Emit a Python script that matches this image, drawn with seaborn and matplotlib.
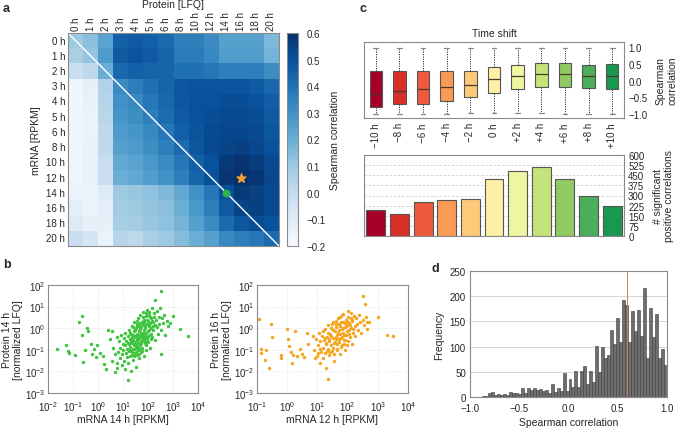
import numpy as np
import pandas as pd
import matplotlib
matplotlib.use("Agg")
import matplotlib.pyplot as plt
from matplotlib.ticker import LogLocator
import seaborn as sns

sns.set_theme(style="white")
plt.rcParams["font.family"] = ["Liberation Sans", "DejaVu Sans"]
plt.rcParams["axes.unicode_minus"] = True

# ---- panel a: mRNA vs protein Spearman correlation matrix ----
hours = ["0 h", "1 h", "2 h", "3 h", "4 h", "5 h", "6 h", "8 h",
         "10 h", "12 h", "14 h", "16 h", "18 h", "20 h"]
corr = np.array([
    [0.10, 0.14, 0.24, 0.45, 0.47, 0.45, 0.42, 0.36, 0.36, 0.32, 0.25, 0.25, 0.25, 0.16],
    [0.07, 0.12, 0.27, 0.47, 0.49, 0.47, 0.44, 0.37, 0.37, 0.33, 0.26, 0.26, 0.26, 0.18],
    [-0.02, 0.02, 0.20, 0.43, 0.45, 0.44, 0.44, 0.40, 0.40, 0.38, 0.36, 0.36, 0.36, 0.31],
    [-0.16, -0.13, 0.05, 0.32, 0.36, 0.40, 0.44, 0.48, 0.49, 0.49, 0.49, 0.49, 0.47, 0.43],
    [-0.17, -0.14, 0.04, 0.30, 0.33, 0.38, 0.43, 0.48, 0.50, 0.50, 0.51, 0.51, 0.50, 0.46],
    [-0.17, -0.15, 0.03, 0.29, 0.31, 0.36, 0.41, 0.47, 0.50, 0.51, 0.52, 0.52, 0.51, 0.47],
    [-0.17, -0.15, 0.02, 0.27, 0.29, 0.33, 0.38, 0.45, 0.49, 0.52, 0.53, 0.53, 0.52, 0.48],
    [-0.16, -0.14, 0.02, 0.25, 0.27, 0.31, 0.36, 0.42, 0.48, 0.52, 0.54, 0.55, 0.53, 0.50],
    [-0.16, -0.14, -0.01, 0.22, 0.24, 0.28, 0.32, 0.38, 0.45, 0.50, 0.57, 0.59, 0.56, 0.52],
    [-0.16, -0.14, -0.02, 0.20, 0.22, 0.26, 0.30, 0.36, 0.44, 0.50, 0.58, 0.61, 0.58, 0.53],
    [-0.15, -0.15, -0.10, 0.10, 0.11, 0.13, 0.16, 0.22, 0.30, 0.38, 0.50, 0.57, 0.55, 0.52],
    [-0.12, -0.15, -0.12, 0.09, 0.10, 0.12, 0.14, 0.20, 0.28, 0.36, 0.47, 0.54, 0.55, 0.52],
    [-0.10, -0.13, -0.13, 0.08, 0.09, 0.11, 0.13, 0.18, 0.25, 0.32, 0.42, 0.48, 0.51, 0.50],
    [-0.02, -0.06, -0.15, 0.04, 0.02, 0.07, 0.10, 0.15, 0.20, 0.25, 0.33, 0.36, 0.38, 0.42],
])
cbar_ticks = [-0.2, -0.1, 0.0, 0.1, 0.2, 0.3, 0.4, 0.5, 0.6]

# ---- panel b: scatter (log10 values) ----
mrna14_log = [
    -1.64, -1.27, -1.2, -1.16, -0.93, -0.76, -0.63, -0.65, -0.44, -0.39, -0.6, -0.53,
    -0.27, -0.23, -0.16, -0.04, 0.07, -0.07, 0.2, 0.24, 0.31, 0.4, 0.47, 0.57, 0.67,
    0.76, 1.21, 2.51, 2.27, 3.27, 3.61, 3.0, 2.87, 2.53,
    0.55, 0.6, 0.7, 0.75, 0.78,
    0.82, 0.85, 0.88, 0.9, 0.93, 0.95, 0.97, 0.99,
    1.01, 1.03, 1.05, 1.07, 1.08, 1.1, 1.12, 1.14, 1.16, 1.18, 1.19,
    1.21, 1.22, 1.24, 1.25, 1.27, 1.28, 1.3, 1.31, 1.33, 1.34, 1.36, 1.37, 1.38, 1.39,
    1.41, 1.42, 1.43, 1.45, 1.46, 1.47, 1.48, 1.5, 1.51, 1.52, 1.53, 1.55, 1.56, 1.57, 1.58, 1.59,
    1.6, 1.61, 1.62, 1.64, 1.65, 1.66, 1.67, 1.68, 1.7, 1.71, 1.72, 1.73, 1.75, 1.76, 1.77, 1.79,
    1.8, 1.81, 1.83, 1.84, 1.85, 1.86, 1.88, 1.89, 1.9, 1.92, 1.93, 1.95, 1.96, 1.98, 1.99,
    2.0, 2.02, 2.04, 2.05, 2.07, 2.09, 2.1, 2.12, 2.14, 2.16, 2.18, 2.2, 2.22, 2.25, 2.27, 2.29,
    2.32, 2.35, 2.38, 2.4, 2.43, 2.46, 2.5, 2.53, 2.57, 2.6, 2.65, 2.7, 2.75, 2.8,
    1.25, 1.28, 1.32, 1.35, 1.4, 1.44, 1.47, 1.5, 1.53, 1.55, 1.58, 1.6, 1.62, 1.65, 1.68,
    1.7, 1.72, 1.74, 1.77, 1.79, 1.82, 1.84, 1.87, 1.9, 1.91, 1.94, 1.97, 2.0, 2.03, 2.06,
    2.08, 2.11, 2.15, 2.19, 2.23, 1.3, 1.38, 1.45, 1.52, 1.63, 1.75, 1.86, 1.95, 1.42,
    1.57, 1.67, 1.82, 1.93, 2.05, 2.13,
]
prot14_log = [
    -0.95, -0.8, -1.04, -1.16, -1.25, 0.28, 0.58, -0.32, 0.02, -0.13, -1.58, -1.0,
    -0.74, -1.2, -0.97, -0.79, -1.13, -1.35, -1.28, -1.66, -1.89, -0.09, -0.48, -0.13, -2.04,
    -1.86, -2.39, 1.72, 1.31, -0.03, -0.37, 0.58, 0.25, -1.2,
    -1.5, -0.9, -1.2, -0.4, -1.6,
    -1.1, -0.6, -1.4, -0.9, -0.3, -1.7, -1.2, -0.75,
    -1.0, -0.45, -1.5, -0.8, -1.9, -0.2, -1.15, -0.6, -1.35, -0.95, -0.35,
    -1.6, -0.7, -1.05, -0.1, -0.5, -1.3, -0.85, -0.25, -2.0, -0.65, -1.1, 0.1, -0.4, -0.95,
    -0.55, -1.45, -0.15, -0.8, 0.3, -1.15, -0.35, -0.65, -1.8, 0.0, -0.9, -0.45, -1.25, 0.2, -0.25, -0.7,
    -1.0, 0.45, -0.5, -0.15, -1.4, 0.1, -0.8, -0.3, 0.6, -0.6, -1.1, 0.05, -0.4, 0.3, -0.9, -0.2,
    0.75, -0.55, 0.15, -1.3, -0.1, 0.4, -0.7, 0.0, -0.35, 0.55, -1.0, 0.2, -0.45, 0.85, -0.15,
    0.35, -0.65, 0.1, 0.6, -0.3, 0.25, -0.9, 0.45, 0.0, 0.95, -0.4, 0.3, -0.1, 0.7, 0.15, -0.55,
    0.4, 0.05, 0.8, -0.25, 0.5, 0.2, 0.95, -0.1, 0.45, 0.25, 0.6, -0.3, 0.35, 0.1,
    -0.75, -0.2, -0.55, -1.25, -0.3, -0.95, -0.1, -0.4, -1.1, 0.1, -0.55, -0.3, -0.85, -0.45, 0.25,
    -0.95, -0.2, -0.7, 0.2, -0.5, -0.3, 0.3, -0.45, 0.1, -0.8, -0.2, 0.4, -0.35, 0.2, -0.1,
    0.5, -0.5, 0.35, 0.1, 0.5, -1.0, -0.7, -1.3, -0.8, -1.2, -1.05, -0.6, -0.6, 0.05,
    0.35, -0.05, 0.5, 0.7, 0.75, -0.25,
]
mrna12_log = [
    -0.93, -0.88, -0.86, -0.72, -0.71, -0.52, -0.6, -0.49, -0.22, -0.19, -0.02, 0.01,
    0.07, 0.11, 0.16, 0.18, 0.26, 0.31, 0.42, 0.48, 0.56, 0.64, 0.7, 0.87, 0.92, 1.34,
    2.64, 3.0, 3.3, 3.5, 2.58, 2.51,
    0.9, 0.95, 1.0, 1.03, 1.05, 1.08, 1.1, 1.12, 1.15, 1.17, 1.2, 1.22, 1.24, 1.26, 1.28,
    1.3, 1.32, 1.34, 1.36, 1.38, 1.4, 1.42, 1.44, 1.46, 1.48, 1.5, 1.52, 1.54, 1.56, 1.58,
    1.6, 1.62, 1.64, 1.66, 1.68, 1.7, 1.72, 1.74, 1.76, 1.78, 1.8, 1.82, 1.84, 1.86, 1.88,
    1.9, 1.92, 1.94, 1.96, 1.98, 2.0, 2.02, 2.04, 2.06, 2.08, 2.1, 2.12, 2.14, 2.16, 2.18,
    2.2, 2.23, 2.26, 2.29, 2.32, 2.35, 2.38, 2.42, 2.46, 2.5, 2.55, 2.6, 2.65, 2.7,
    1.3, 1.35, 1.4, 1.45, 1.5, 1.53, 1.57, 1.6, 1.63, 1.66, 1.69, 1.71, 1.73, 1.76, 1.79,
    1.81, 1.83, 1.86, 1.89, 1.91, 1.93, 1.96, 1.99, 2.01, 2.05, 2.09, 2.13, 2.17, 1.25,
    1.33, 1.43, 1.55, 1.65, 1.77, 1.87, 1.97, 1.48, 1.62, 1.75, 1.85, 2.0, 2.1, 1.1, 1.18, 1.02,
]
prot16_log = [
    0.43, -0.98, -1.13, -1.47, -1.01, 0.2, -1.86, -0.42, -1.26, -1.36, -0.03, -0.52,
    -0.83, -1.09, -1.62, -1.26, -0.14, -1.29, -0.95, -1.21, -1.32, -0.22, -0.71, -0.37, -1.36, -2.33,
    0.27, 0.5, -0.32, -0.36, 1.1, 1.5,
    -1.0, -0.5, -1.3, -0.8, -0.2, -1.6, -0.6, -1.1, -0.35, -0.9, -1.4, -0.55, -0.05, -1.15, -0.75,
    -1.85, -0.4, -0.95, 0.15, -0.6, -1.25, -0.25, -0.8, 0.0, -1.05, -0.45, 0.3, -0.7, -1.5, -0.15,
    -0.5, 0.2, -0.95, -0.3, 0.45, -0.65, -0.1, -1.2, 0.1, -0.45, 0.6, -0.8, -0.2, 0.3, -0.55,
    0.05, -1.0, 0.4, -0.3, 0.15, -0.6, 0.5, -0.1, 0.25, -0.4, 0.7, 0.0, -0.75, 0.35, -0.2,
    0.55, 0.1, -0.35, 0.45, 0.2, -0.1, 0.6, 0.3, -0.2, 0.4, 0.15, 0.5, -0.05, 0.3,
    -0.7, -0.2, -0.5, -0.35, -0.9, -0.1, -0.65, 0.05, -0.4, -0.75, -0.2, 0.2, -0.5, -0.25, 0.3,
    -0.05, -0.4, 0.0, -0.3, 0.25, -0.55, 0.1, -0.15, 0.3, -0.25, 0.15, 0.4, -0.05, -0.45,
    -1.05, -1.1, -1.2, -1.0, -0.85, -0.75, -0.8, 0.2, 0.35, 0.5, 0.65, 0.8, 0.45, -0.95, -0.15, -1.15,
]

# ---- panel c: time shift ----
shift_labels = ["\u221210 h", "\u22128 h", "\u22126 h", "\u22124 h", "\u22122 h", "0 h",
                "+2 h", "+4 h", "+6 h", "+8 h", "+10 h"]
box_q1 = [-0.80, -0.71, -0.69, -0.60, -0.50, -0.37, -0.25, -0.20, -0.18, -0.23, -0.26]
box_med = [-0.40, -0.30, -0.25, -0.20, -0.13, 0.03, 0.13, 0.19, 0.19, 0.14, 0.13]
box_q3 = [0.27, 0.29, 0.27, 0.27, 0.29, 0.40, 0.47, 0.52, 0.52, 0.45, 0.48]
box_lo = [-1.0, -0.99, -0.99, -0.99, -0.98, -0.96, -0.97, -0.98, -0.99, -0.99, -1.0]
box_hi = [0.96, 0.96, 0.96, 0.96, 0.96, 0.96, 0.96, 0.96, 0.96, 0.96, 0.96]
sig_counts = [196, 162, 250, 267, 277, 419, 482, 509, 419, 294, 223]
shift_colors = ["#a50026", "#d73027", "#ee5a3c", "#f99a55", "#fdca79", "#fdf0a6",
                "#eef6a2", "#c4e47b", "#8fcb62", "#4cad5a", "#1a9850"]

# ---- panel d: histogram of Spearman correlations ----
hist_counts = [
    0, 0, 0, 0, 2, 1, 7, 10, 3, 5, 4, 6, 4, 9, 7, 7, 5, 18, 7, 18, 14, 18, 13, 16, 11,
    13, 7, 25, 9, 18, 12, 47, 12,
    36, 20, 51, 20, 52, 62, 25, 51, 30, 102, 50, 100, 78, 84, 132, 106, 156, 110, 192, 183,
    110, 170, 130, 173, 122, 217, 77, 176, 120, 165, 78, 96, 63,
]
hist_median = 0.59

W, H = 679, 431
fig = plt.figure(figsize=(W / 100, H / 100), dpi=100)


def px(l, t, r, b):
    return [l / W, 1 - b / H, (r - l) / W, (b - t) / H]


frame_col = "#8a8a8a"
fs = 7


def frame(ax):
    for s in ax.spines.values():
        s.set_visible(True)
        s.set_color(frame_col)
        s.set_linewidth(0.8)


# panel a
ax_a = fig.add_axes(px(68, 34, 279, 247))
cax = fig.add_axes(px(287, 34, 298, 247))
sns.heatmap(corr, ax=ax_a, cbar_ax=cax, cmap="Blues", vmin=-0.2, vmax=0.6,
            xticklabels=hours, yticklabels=hours, cbar_kws={"ticks": cbar_ticks})
ax_a.xaxis.tick_top()
ax_a.xaxis.set_label_position("top")
ax_a.tick_params(axis="x", rotation=90, labelsize=fs, length=0, pad=2)
ax_a.tick_params(axis="y", rotation=0, labelsize=fs, length=0, pad=2)
ax_a.set_xlabel("Protein [LFQ]", fontsize=fs + 0.5, labelpad=3)
ax_a.set_ylabel("mRNA [RPKM]", fontsize=fs + 0.5, labelpad=4)
ax_a.plot([0, len(hours)], [0, len(hours)], color="white", lw=1.0)
ax_a.scatter([11.5], [9.5], marker="*", s=45, color="#f4a23a", zorder=5)
ax_a.scatter([10.5], [10.5], marker="o", s=22, color="#2bb34a", zorder=5)
frame(ax_a)
cbar = ax_a.collections[0].colorbar
cbar.outline.set_edgecolor(frame_col)
cbar.outline.set_linewidth(0.8)
cbar.set_ticklabels([f"{v:.1f}".replace("-", "\u2212") for v in cbar_ticks])
cax.tick_params(labelsize=fs, length=0, pad=6)
cbar.set_label("Spearman correlation", fontsize=fs + 0.5, labelpad=3)

# panel b
scatter_sets = [
    (px(48, 286, 198, 394), mrna14_log, prot14_log, "#3ec43e", (1e-2, 1e4),
     "mRNA 14 h [RPKM]", "Protein 14 h\n[normalized LFQ]"),
    (px(257, 286, 408, 394), mrna12_log, prot16_log, "#f5a51e", (1e-1, 1e4),
     "mRNA 12 h [RPKM]", "Protein 16 h\n[normalized LFQ]"),
]
for rect, xs, ys, col, xlim, xl, yl in scatter_sets:
    ax = fig.add_axes(rect)
    sns.scatterplot(x=10 ** np.array(xs), y=10 ** np.array(ys), ax=ax, s=6,
                    color=col, linewidth=0)
    ax.set_xscale("log")
    ax.set_yscale("log")
    ax.xaxis.set_major_locator(LogLocator(base=10, numticks=15))
    ax.yaxis.set_major_locator(LogLocator(base=10, numticks=15))
    ax.set_xlim(*xlim)
    ax.set_ylim(1e-3, 1e2)
    ax.minorticks_off()
    ax.grid(True, color="#d8d8d8", lw=0.5, ls=":")
    ax.tick_params(axis="x", labelsize=fs, length=0, pad=4.5)
    ax.tick_params(axis="y", labelsize=fs, length=0, pad=2)
    ax.set_xlabel(xl, fontsize=fs + 0.5, labelpad=1)
    ax.set_ylabel(yl, fontsize=fs + 0.5, labelpad=1)
    frame(ax)

# panel c top: box plot
ax_c1 = fig.add_axes(px(364, 43, 624, 119))
stats = [dict(med=m, q1=a, q3=b, whislo=lo, whishi=hi, label=lab)
         for m, a, b, lo, hi, lab in zip(box_med, box_q1, box_q3, box_lo, box_hi, shift_labels)]
bp = ax_c1.bxp(stats, positions=np.arange(len(stats)), widths=0.53, patch_artist=True,
               showfliers=False, capwidths=0.2,
               boxprops=dict(edgecolor="#555555", linewidth=0.8),
               whiskerprops=dict(color="#333333", linestyle=(0, (1.2, 1.2)), linewidth=0.7),
               capprops=dict(color="#888888", linewidth=0.9),
               medianprops=dict(color="#4a3a2a", linewidth=0.9))
for patch, c in zip(bp["boxes"], shift_colors):
    patch.set_facecolor(c)
ax_c1.set_xlim(-0.5, 10.5)
ax_c1.set_ylim(-1.12, 1.15)
ax_c1.set_yticks([-1.0, -0.5, 0.0, 0.5, 1.0])
ax_c1.set_yticklabels(["\u22121.0", "\u22120.5", "0.0", "0.5", "1.0"])
ax_c1.yaxis.tick_right()
ax_c1.yaxis.set_label_position("right")
ax_c1.set_xticks(np.arange(len(shift_labels)))
ax_c1.set_xticklabels(shift_labels, rotation=90)
ax_c1.tick_params(labelsize=fs, length=0, pad=3)
ax_c1.set_ylabel("Spearman\ncorrelation", fontsize=fs + 0.5, labelpad=6)
ax_c1.set_title("Time shift", fontsize=fs + 0.5, pad=4)
frame(ax_c1)

# panel c bottom: bars
ax_c2 = fig.add_axes(px(364, 156, 624, 237))
sns.barplot(x=shift_labels, y=sig_counts, hue=shift_labels, palette=shift_colors,
            legend=False, ax=ax_c2, width=0.8, edgecolor="#555555", linewidth=0.8,
            saturation=1)
ax_c2.set_xlim(-0.5, 10.5)
ax_c2.set_ylim(0, 600)
ax_c2.set_yticks(range(0, 601, 75))
ax_c2.yaxis.tick_right()
ax_c2.yaxis.set_label_position("right")
ax_c2.set_xticks([])
ax_c2.grid(True, axis="y", color="#cfcfcf", lw=0.6, ls=(0, (3, 2)))
ax_c2.set_axisbelow(True)
ax_c2.tick_params(labelsize=fs, length=0, pad=3)
ax_c2.set_ylabel("# significant\npositive correlations", fontsize=fs + 0.5, labelpad=6)
frame(ax_c2)

# panel d
ax_d = fig.add_axes(px(470, 272, 667, 398))
edges = np.linspace(-1, 1, len(hist_counts) + 1)
hist_df = pd.DataFrame({"rho": (edges[:-1] + edges[1:]) / 2, "n": hist_counts})
sns.histplot(data=hist_df, x="rho", weights="n", bins=len(hist_counts), binrange=(-1, 1),
             ax=ax_d, color="#6e6e6e", edgecolor="#3c3c3c", linewidth=0.4, alpha=1)
ax_d.axvline(hist_median, color="#d9776a", lw=0.7)
ax_d.set_xlim(-1, 1)
ax_d.set_ylim(0, 250)
ax_d.set_xticks([-1.0, -0.5, 0.0, 0.5, 1.0])
ax_d.set_xticklabels(["\u22121.0", "\u22120.5", "0.0", "0.5", "1.0"])
ax_d.set_yticks(range(0, 251, 50))
ax_d.grid(True, axis="y", color="#d0d0d0", lw=0.6)
ax_d.set_axisbelow(True)
ax_d.tick_params(axis="x", labelsize=fs, length=0, pad=4)
ax_d.tick_params(axis="y", labelsize=fs, length=0, pad=3)
ax_d.set_xlabel("Spearman correlation", fontsize=fs + 0.5, labelpad=3)
ax_d.set_ylabel("Frequency", fontsize=fs + 0.5, labelpad=4)
frame(ax_d)

# panel letters
for lab, x, y in [("a", 3, 3), ("b", 3, 259), ("c", 360, 3), ("d", 432, 263)]:
    fig.text(x / W, 1 - y / H, lab, fontsize=9, fontweight="bold", va="top", ha="left")

fig.savefig("out.png", dpi=100)
